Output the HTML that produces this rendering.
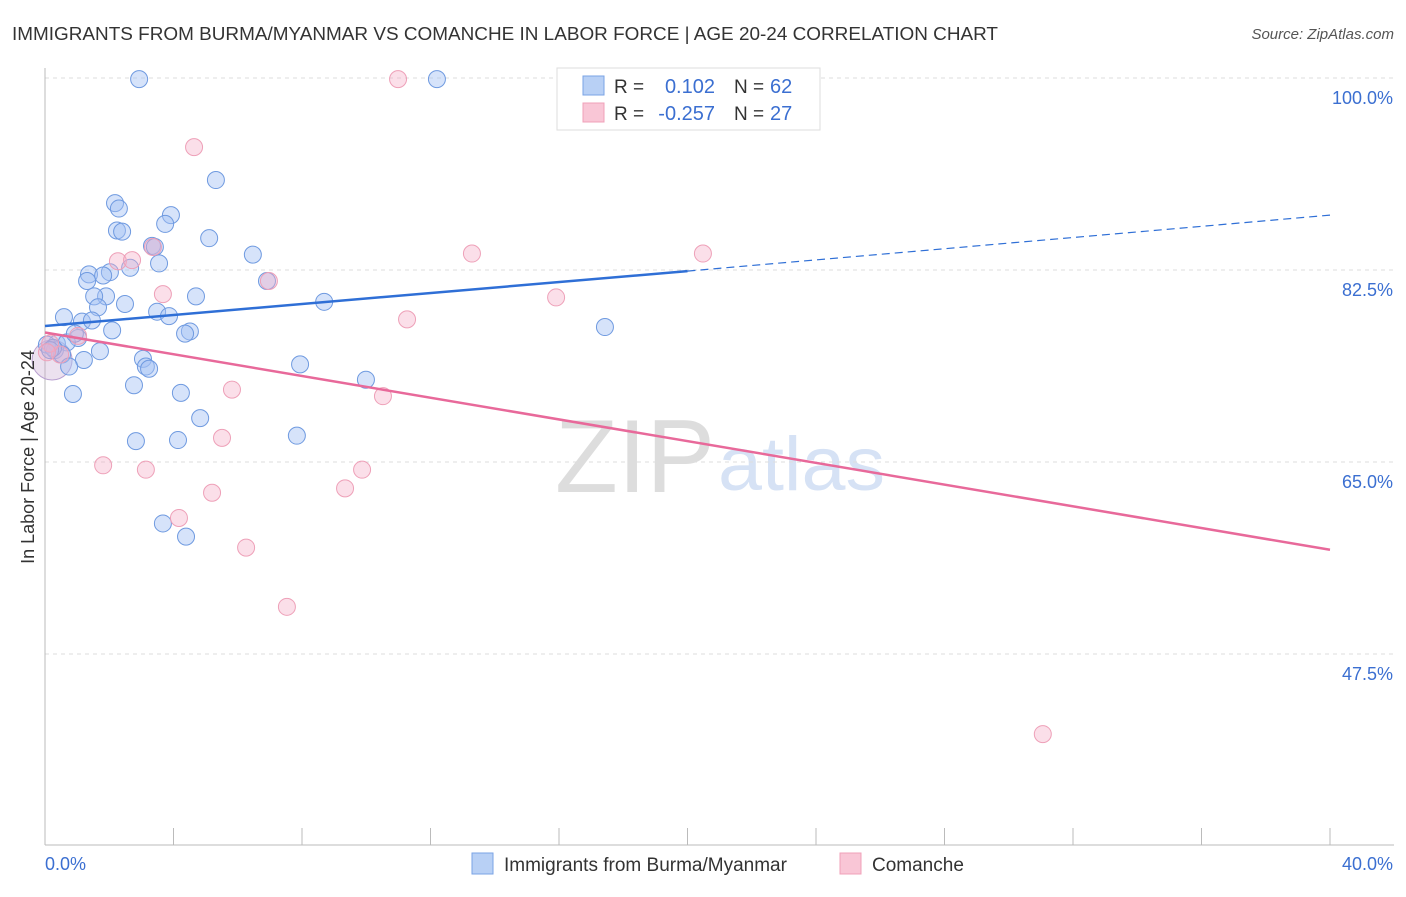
<!DOCTYPE html>
<html><head><meta charset="utf-8"><style>
body{margin:0;background:#fff;font-family:"Liberation Sans",sans-serif;}
svg text{font-family:"Liberation Sans",sans-serif;}
</style></head><body>
<svg id="c" width="1406" height="892" xmlns="http://www.w3.org/2000/svg">
<text x="12" y="40" font-size="18" fill="#333" textLength="986" lengthAdjust="spacingAndGlyphs">IMMIGRANTS FROM BURMA/MYANMAR VS COMANCHE IN LABOR FORCE | AGE 20-24 CORRELATION CHART</text>
<text x="1394" y="39" font-size="15" fill="#555" font-style="italic" text-anchor="end">Source: ZipAtlas.com</text>
<text x="555" y="492" font-size="104" fill="#ddd" textLength="160" lengthAdjust="spacingAndGlyphs" font-family="Liberation Serif">ZIP</text>
<text x="718" y="490" font-size="76" fill="#d6e2f5" textLength="167" lengthAdjust="spacingAndGlyphs">atlas</text>
<g id="grid"></g><g id="pts"></g><g id="lines"></g>
<text transform="translate(34,457) rotate(-90)" font-size="18" fill="#333" text-anchor="middle">In Labor Force | Age 20-24</text>
<g>
<rect x="557" y="68" width="263" height="62" fill="#fff" stroke="#ddd"/>
<rect x="583" y="76" width="21" height="19" fill="#b8d0f5" stroke="#7aa3e5"/>
<rect x="583" y="103" width="21" height="19" fill="#f9c6d6" stroke="#f0a0b8"/>
<text x="614" y="93" font-size="19" fill="#333">R =</text>
<text x="715" y="93" font-size="20" fill="#3b6fd1" text-anchor="end">0.102</text>
<text x="734" y="93" font-size="19" fill="#333">N =</text>
<text x="770" y="93" font-size="20" fill="#3b6fd1">62</text>
<text x="614" y="120" font-size="19" fill="#333">R =</text>
<text x="715" y="120" font-size="20" fill="#3b6fd1" text-anchor="end">-0.257</text>
<text x="734" y="120" font-size="19" fill="#333">N =</text>
<text x="770" y="120" font-size="20" fill="#3b6fd1">27</text>
</g>
<g>
<rect x="472" y="853" width="21" height="21" fill="#b8d0f5" stroke="#7aa3e5"/>
<text x="504" y="871" font-size="19" fill="#333">Immigrants from Burma/Myanmar</text>
<rect x="840" y="853" width="21" height="21" fill="#f9c6d6" stroke="#f0a0b8"/>
<text x="872" y="871" font-size="19" fill="#333">Comanche</text>
</g>
</svg>
<script>
const blueX=[2.93,12.20,5.32,2.18,2.30,3.92,3.74,2.24,2.40,5.11,3.33,3.42,6.47,3.55,2.65,2.02,1.37,1.81,1.31,6.91,1.90,1.53,4.70,2.49,1.65,8.69,3.49,3.86,0.59,1.15,1.46,2.09,4.51,4.36,17.43,1.03,0.37,0.68,0.31,1.71,0.53,3.05,1.21,7.94,3.14,3.24,0.75,9.99,2.77,4.23,0.87,4.83,2.83,4.14,7.84,3.67,4.39,0.06,0.25,0.93,0.16];
const blueY=[99.9,99.9,90.7,88.6,88.1,87.5,86.7,86.1,86.0,85.4,84.7,84.6,83.9,83.1,82.7,82.3,82.1,82.0,81.5,81.5,80.1,80.1,80.1,79.4,79.1,79.6,78.7,78.3,78.2,77.8,77.9,77.0,76.9,76.7,77.3,76.3,75.8,75.9,75.2,75.1,74.8,74.4,74.3,73.9,73.7,73.5,73.7,72.5,72.0,71.3,71.2,69.0,66.9,67.0,67.4,59.4,58.2,75.7,75.4,76.7,75.2];
const pinkX=[10.99,4.64,20.48,13.29,3.36,2.27,2.71,6.97,3.67,15.91,11.27,1.03,0.47,0.16,0.06,5.82,10.52,5.51,1.81,3.14,9.87,9.34,5.20,4.17,6.26,7.53,31.06];
const pinkY=[99.9,93.7,84.0,84.0,84.6,83.3,83.4,81.5,80.3,80.0,78.0,76.5,74.8,75.8,75.0,71.6,71.0,67.2,64.7,64.3,64.3,62.6,62.2,59.9,57.2,51.8,40.2];
const yTicks=[100,82.5,65,47.5];
const yTickLabels=["100.0%","82.5%","65.0%","47.5%"];
const blueTrend=[[0,77.4],[20,82.4],[40,87.5]];
const pinkTrend=[[0,76.8],[40,57.0]];
const NS="http://www.w3.org/2000/svg";
const sx=v=>45+v/40*1285, sy=v=>78+(100-v)/17.5*192;
function mk(t,a,p){const e=document.createElementNS(NS,t);for(const k in a)e.setAttribute(k,a[k]);p.appendChild(e);return e;}
const grid=document.getElementById('grid');
yTicks.forEach((v,i)=>{
 const l=mk('line',{x1:45,x2:1394,y1:sy(v),y2:sy(v),stroke:'#ddd','stroke-dasharray':'4,4'},grid);
 
 
 const t=mk('text',{x:1393,y:sy(v)+26,'font-size':18,fill:'#3b6fd1','text-anchor':'end'},grid);
 t.textContent=yTickLabels[i];
 
 
});
mk('line',{x1:45,x2:45,y1:68,y2:845,stroke:'#bbb'},grid);
mk('line',{x1:45,x2:1394,y1:845,y2:845,stroke:'#bbb'},grid);
for(let i=0;i<=10;i++){mk('line',{x1:sx(i*4),x2:sx(i*4),y1:828,y2:845,stroke:'#bbb'},grid);}
const xl=mk('text',{x:45,y:870,'font-size':18,fill:'#3b6fd1'},grid);xl.textContent='0.0%';


const xr=mk('text',{x:1393,y:870,'font-size':18,fill:'#3b6fd1','text-anchor':'end'},grid);xr.textContent='40.0%';


const pts=document.getElementById('pts');
mk('circle',{cx:sx(0.22),cy:sy(74.3),r:20,fill:'rgba(200,170,210,0.35)',stroke:'#b9a0d0'},pts);
blueX.forEach((x,i)=>{const c=mk('circle',{cx:sx(x),cy:sy(blueY[i]),r:8.5,fill:'rgba(164,194,244,0.45)',stroke:'#6f9ae0','stroke-width':1},pts);
 
 });
pinkX.forEach((x,i)=>{const c=mk('circle',{cx:sx(x),cy:sy(pinkY[i]),r:8.5,fill:'rgba(246,176,200,0.4)',stroke:'#eea0b8','stroke-width':1},pts);
 
 });
const lines=document.getElementById('lines');
const b1=mk('line',{x1:sx(blueTrend[0][0]),y1:sy(blueTrend[0][1]),x2:sx(blueTrend[1][0]),y2:sy(blueTrend[1][1]),stroke:'#2f6fd6','stroke-width':2.5},lines);


const b2=mk('line',{x1:sx(blueTrend[1][0]),y1:sy(blueTrend[1][1]),x2:sx(blueTrend[2][0]),y2:sy(blueTrend[2][1]),stroke:'#2f6fd6','stroke-width':1.2,'stroke-dasharray':'8,5'},lines);


const p1=mk('line',{x1:sx(pinkTrend[0][0]),y1:sy(pinkTrend[0][1]),x2:sx(pinkTrend[1][0]),y2:sy(pinkTrend[1][1]),stroke:'#e8699a','stroke-width':2.5},lines);


</script>
</body></html>
